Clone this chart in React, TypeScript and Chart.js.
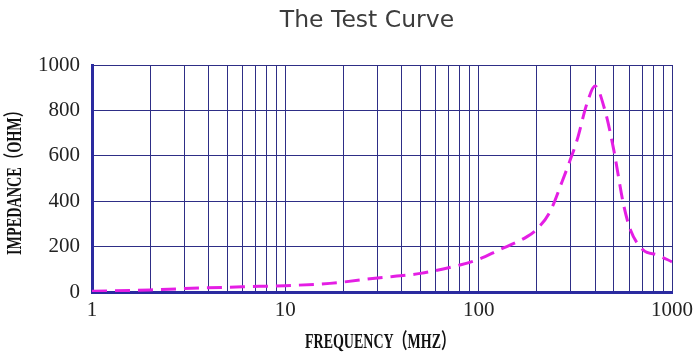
import React, { useEffect, useRef } from "react";
import { Chart, registerables } from "chart.js";

Chart.register(...registerables);

const frequencies = [1, 2, 3, 6, 10, 17, 30, 50, 80, 100, 125, 178, 200, 234, 270, 297, 323, 364, 400, 450, 500, 560, 610, 710, 840, 1000];
const impedance = [3, 9, 15, 23, 28, 38, 62, 82, 119, 144, 182, 244, 277, 354, 486, 580, 670, 833, 907, 800, 625, 390, 273, 185, 163, 133];
const xTicks = [1, 2, 3, 4, 5, 6, 7, 8, 9, 10, 20, 30, 40, 50, 60, 70, 80, 90, 100, 200, 300, 400, 500, 600, 700, 800, 900, 1000];
const xLabels = [1, 10, 100, 1000];
const yTicks = [0, 200, 400, 600, 800, 1000];
const chartTitle = "The Test Curve";
const xTitle = "FREQUENCY（MHZ）";
const yTitle = "IMPEDANCE（OHM）";

const serif = "'Liberation Serif', 'Noto Sans CJK SC', serif";

function drawSqueezed(ctx: CanvasRenderingContext2D, text: string, cx: number, cy: number, targetWidth: number, rotate: boolean) {
  ctx.save();
  ctx.font = `bold 21px ${serif}`;
  ctx.fillStyle = "#111111";
  ctx.textAlign = "center";
  ctx.textBaseline = "middle";
  const w = ctx.measureText(text).width;
  ctx.translate(cx, cy);
  if (rotate) ctx.rotate(-Math.PI / 2);
  ctx.scale(targetWidth / w, 1);
  ctx.fillText(text, 0, 0);
  ctx.restore();
}

const titlesPlugin = {
  id: "customTitles",
  afterDraw(chart: any) {
    const ctx = chart.ctx as CanvasRenderingContext2D;
    ctx.save();
    ctx.font = "23.5px 'DejaVu Sans', sans-serif";
    ctx.fillStyle = "#3c3c3c";
    ctx.textAlign = "center";
    ctx.textBaseline = "middle";
    ctx.fillText(chartTitle, 367, 21);
    ctx.restore();
    const area = chart.chartArea;
    drawSqueezed(ctx, xTitle, (area.left + area.right) / 2 - 2, 343, 150, false);
    drawSqueezed(ctx, yTitle, 16, 179, 152, true);
  },
};

export default function App() {
  const ref = useRef<HTMLCanvasElement>(null);
  useEffect(() => {
    if (!ref.current) return;
    const chart = new Chart(ref.current, {
      type: "line",
      data: {
        datasets: [
          {
            data: frequencies.map((f, i) => ({ x: f, y: impedance[i] })),
            borderColor: "#e41ee4",
            borderWidth: 3,
            borderDash: [15, 8],
            pointRadius: 0,
            cubicInterpolationMode: "monotone",
            fill: false,
          },
        ],
      },
      plugins: [titlesPlugin],
      options: {
        animation: false,
        responsive: true,
        maintainAspectRatio: false,
        layout: { padding: { left: 0, right: 28, top: 65, bottom: 0 } },
        plugins: {
          legend: { display: false },
          tooltip: { enabled: false },
          title: { display: false },
        },
        scales: {
          x: {
            type: "logarithmic",
            min: 1,
            max: 1000,
            afterBuildTicks: (s: any) => {
              s.ticks = xTicks.map((v) => ({ value: v }));
            },
            afterFit: (s: any) => {
              s.height = 70;
            },
            ticks: {
              autoSkip: false,
              maxRotation: 0,
              padding: 6,
              color: "#222222",
              font: { family: serif, size: 21 },
              callback: (v: any) => (xLabels.includes(Number(v)) ? String(v) : ""),
            },
            grid: { color: "#2e2e86", lineWidth: 1, drawTicks: false },
            border: { color: "#2a2aa0", width: 3 },
          },
          y: {
            min: 0,
            max: 1000,
            afterBuildTicks: (s: any) => {
              s.ticks = yTicks.map((v) => ({ value: v }));
            },
            afterFit: (s: any) => {
              s.width = 92;
            },
            ticks: {
              padding: 12,
              color: "#222222",
              font: { family: serif, size: 21 },
              callback: (v: any) => String(v),
            },
            grid: { color: "#2e2e86", lineWidth: 1, drawTicks: false },
            border: { color: "#2a2aa0", width: 3 },
          },
        },
      },
    });
    return () => chart.destroy();
  }, []);
  return (
    <div style={{ position: "absolute", left: 0, top: 0, width: 700, height: 362 }}>
      <canvas ref={ref} />
    </div>
  );
}
